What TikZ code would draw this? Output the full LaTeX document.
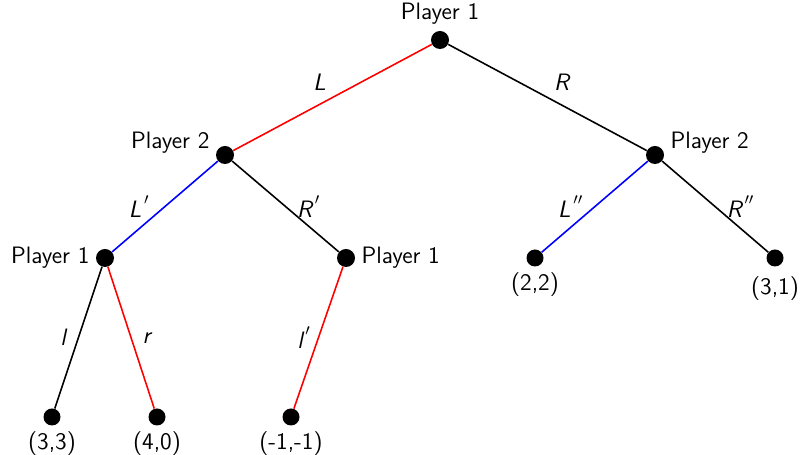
\documentclass[tikz,border=0pt]{standalone}
\usepackage{amsmath,amssymb}
\usepackage{tikz}
\usetikzlibrary{positioning}

\newcommand{\pr}[1]{\raisebox{0.35ex}{$^{\,#1}$}}

\begin{document}
\begin{tikzpicture}[
    font=\sffamily\fontsize{13.5}{15}\selectfont,
    decision/.style={circle, fill=black, inner sep=0pt, minimum size=0.36cm},
    payoff/.style={circle, fill=black, inner sep=0pt, minimum size=0.34cm},
    branch/.style={line width=0.9pt},
    act/.style={text=black, font=\sffamily\itshape\fontsize{13.5}{15}\selectfont}
  ]
    \useasboundingbox (0,0) rectangle (16.02,9.1);

    % Decision nodes
    \node[decision, label=above:Player 1] (root) at (8.8,8.3) {};
    \node[decision, label={[yshift=0.24cm]left:Player 2}] (p2l) at (4.5,6.0) {};
    \node[decision, label={[yshift=0.24cm]right:Player 2}] (p2r) at (13.1,6.0) {};
    \node[decision, label=left:Player 1] (p1l) at (2.1,3.94) {};
    \node[decision, label=right:Player 1] (p1m) at (6.92,3.94) {};

    % Terminal nodes
    \node[payoff, label=below:{(2,2)}] (t22) at (10.7,3.94) {};
    \node[payoff, label={[yshift=-0.08cm]below:{(3,1)}}] (t31) at (15.5,3.94) {};
    \node[payoff, label=below:{(3,3)}] (t33) at (1.04,0.76) {};
    \node[payoff, label=below:{(4,0)}] (t40) at (3.14,0.76) {};
    \node[payoff, label=below:{(-1,-1)}] (tmm) at (5.82,0.76) {};

    % Player 1 at the root
    \draw[branch, red] (root) -- node[act, midway, above left] {L} (p2l);
    \draw[branch, black] (root) -- node[act, midway, above right] {R} (p2r);

    % Player 2
    \draw[branch, blue] (p2l) -- node[act, midway, left=0.18cm] {L\pr{\prime}} (p1l);
    \draw[branch, black] (p2l) -- node[act, midway, right=0.1cm] {R\pr{\prime}} (p1m);
    \draw[branch, blue] (p2r) -- node[act, midway, left=0.1cm] {L\pr{\prime\prime}} (t22);
    \draw[branch, black] (p2r) -- node[act, midway, right=0.1cm] {R\pr{\prime\prime}} (t31);

    % Player 1 again
    \draw[branch, black] (p1l) -- node[act, midway, left=0.12cm] {l} (t33);
    \draw[branch, red] (p1l) -- node[act, midway, right=0.1cm] {r} (t40);
    \draw[branch, red] (p1m) -- node[act, midway, left=0.02cm] {l\pr{\prime}} (tmm);
\end{tikzpicture}
\end{document}
